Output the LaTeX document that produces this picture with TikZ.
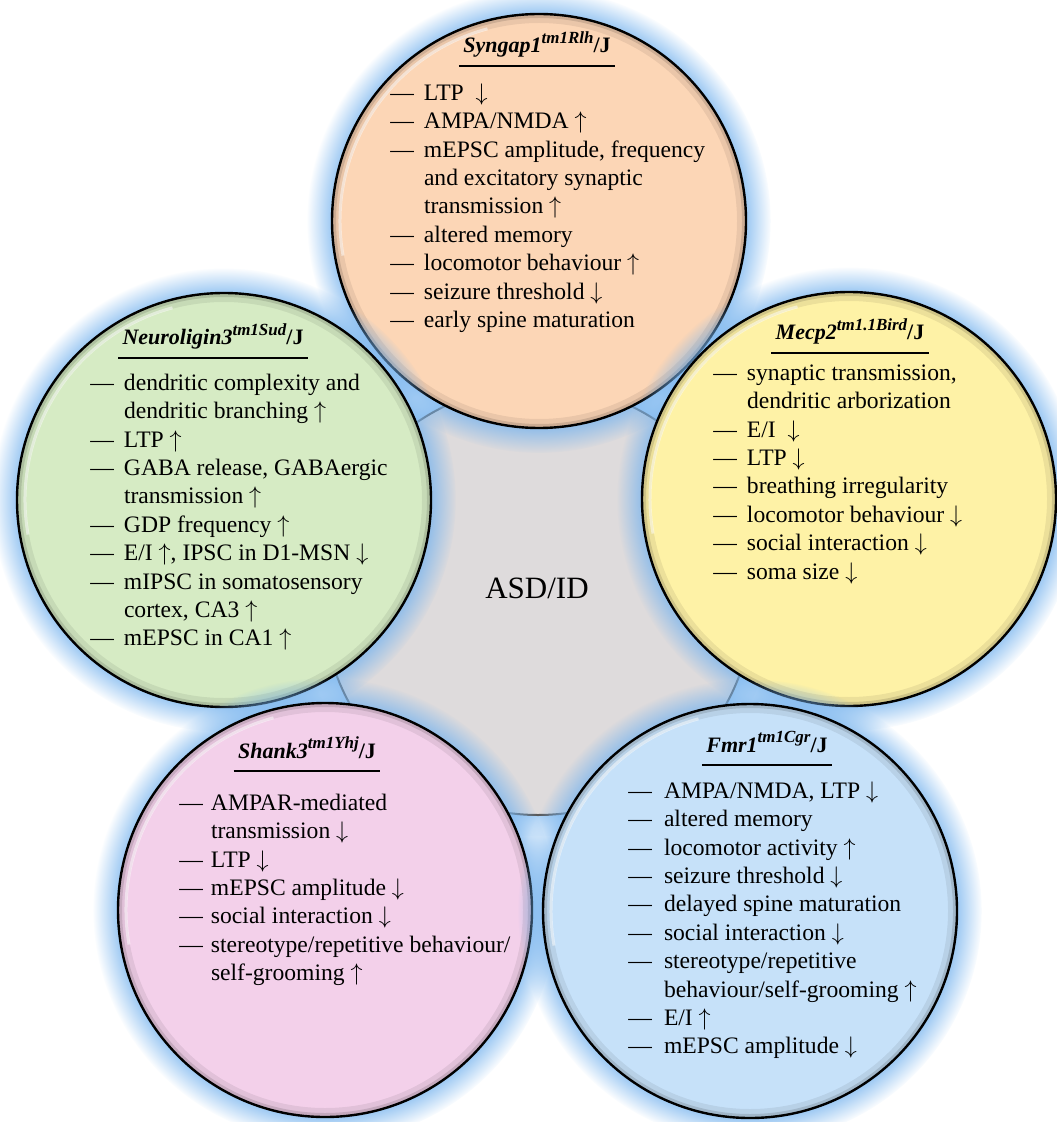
\documentclass[tikz,border=0pt]{standalone}
\usepackage{fontspec}
\setmainfont{Liberation Serif}
\usetikzlibrary{shadows,fadings}

\definecolor{glowblue}{HTML}{78B4EE}
\definecolor{peach}{HTML}{FCD6B6}
\definecolor{leaf}{HTML}{D6EBC4}
\definecolor{butter}{HTML}{FEF2A6}
\definecolor{blush}{HTML}{F3D0EA}
\definecolor{sky}{HTML}{C6E1F9}
\definecolor{stone}{HTML}{DEDBDC}

\newcommand{\strain}[2]{{\bfseries\itshape #1\raisebox{0.45em}{\fontsize{8.5}{9}\selectfont #2}}\textbf{/J}}
\newcommand{\up}{$\uparrow$}
\newcommand{\dn}{$\downarrow$}

\begin{document}
\begin{tikzpicture}[x=0.5pt, y=-0.5pt, inner sep=0pt,
		disc/.style={circle, draw=black, line width=1.2pt, minimum size=207pt, fill=#1,
			circular glow={fill=glowblue, shadow scale=1.12},
			path picture={
				\draw[black, opacity=0.07, line width=8pt] (path picture bounding box.center) circle[radius=103pt];
				\draw[black, opacity=0.12, line width=3pt] (path picture bounding box.center) circle[radius=103pt];
				\draw[white, opacity=0.5, line width=1.5pt] ([shift={(105:99.5pt)}]path picture bounding box.center)
					arc[start angle=105, end angle=190, radius=99.5pt];}},
		centre/.style={circle, draw=black!65, line width=1pt, minimum size=215pt, fill=stone,
			circular glow={fill=glowblue, shadow scale=1.1}},
		title/.style={anchor=base, font=\fontsize{11}{13}\selectfont},
		rule/.style={line width=1.3pt},
		facts/.style={anchor=north west, align=left, font=\fontsize{11.8}{14.2}\selectfont}]

	\useasboundingbox (0,0) rectangle (1056,1122);

	\node[centre]		(asd)		at (538,600)	{};
	\node[anchor=base, font=\fontsize{15.5}{18}\selectfont]
						(asdlabel)	at (537,598)	{ASD/ID};

	\node[disc=peach]	(syngap)	at (539,221)	{};
	\node[disc=leaf]	(nlgn)		at (224,500)	{};
	\node[disc=butter]	(mecp)		at (849,499)	{};
	\node[disc=blush]	(shank)		at (325,910)	{};
	\node[disc=sky]		(fmr)		at (750,911)	{};

	\node[title]	(syngapT)	at (537,53)		{\strain{Syngap1}{tm1Rlh}};
	\node[title]	(nlgnT)		at (213,345)	{\strain{Neuroligin3}{tm1Sud}};
	\node[title]	(mecpT)		at (850,340)	{\strain{Mecp2}{tm1.1Bird}};
	\node[title]	(shankT)	at (307,758)	{\strain{Shank3}{tm1Yhj}};
	\node[title]	(fmrT)		at (767,752)	{\strain{Fmr1}{tm1Cgr}};

	\foreach \t in {syngapT,nlgnT,mecpT,shankT,fmrT}
		\draw[rule] ([xshift=-2pt,yshift=-6.5pt]\t.base west) -- ([xshift=2pt,yshift=-6.5pt]\t.base east);

	\node[facts]	(syngapL)	at (390,80)		{\begin{tabular}{@{}l@{\hspace{5pt}}l@{}}
		— & LTP\enspace\dn\\
		— & AMPA/NMDA \up\\
		— & mEPSC amplitude, frequency\\
		  & and excitatory synaptic\\
		  & transmission \up\\
		— & altered memory\\
		— & locomotor behaviour \up\\
		— & seizure threshold \dn\\
		— & early spine maturation
		\end{tabular}};
	\node[facts]	(nlgnL)		at (90,370)		{\begin{tabular}{@{}l@{\hspace{5pt}}l@{}}
		— & dendritic complexity and\\
		  & dendritic branching \up\\
		— & LTP \up\\
		— & GABA release, GABAergic\\
		  & transmission \up\\
		— & GDP frequency \up\\
		— & E/I \up, IPSC in D1-MSN \dn\\
		— & mIPSC in somatosensory\\
		  & cortex, CA3 \up\\
		— & mEPSC in CA1 \up
		\end{tabular}};
	\node[facts]	(mecpL)		at (713,360)	{\begin{tabular}{@{}l@{\hspace{5pt}}l@{}}
		— & synaptic transmission,\\
		  & dendritic arborization\\
		— & E/I\enspace\dn\\
		— & LTP \dn\\
		— & breathing irregularity\\
		— & locomotor behaviour \dn\\
		— & social interaction \dn\\
		— & soma size \dn
		\end{tabular}};
	\node[facts]	(shankL)	at (179,790)	{\begin{tabular}{@{}l@{\hspace{4pt}}l@{}}
		— & AMPAR-mediated\\
		  & transmission \dn\\
		— & LTP \dn\\
		— & mEPSC amplitude \dn\\
		— & social interaction \dn\\
		— & stereotype/repetitive behaviour/\\
		  & self-grooming \up
		\end{tabular}};
	\node[facts]	(fmrL)		at (628,778)	{\begin{tabular}{@{}l@{\hspace{6pt}}l@{}}
		— & AMPA/NMDA, LTP \dn\\
		— & altered memory\\
		— & locomotor activity \up\\
		— & seizure threshold \dn\\
		— & delayed spine maturation\\
		— & social interaction \dn\\
		— & stereotype/repetitive\\
		  & behaviour/self-grooming \up\\
		— & E/I \up\\
		— & mEPSC amplitude \dn
		\end{tabular}};
\end{tikzpicture}
\end{document}
